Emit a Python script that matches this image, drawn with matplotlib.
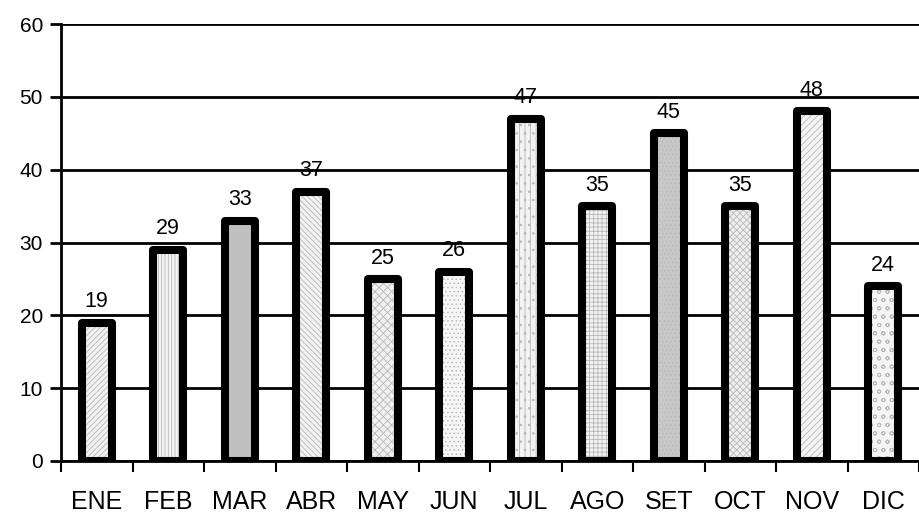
import matplotlib.pyplot as plt
import numpy as np

meses = ['ENE', 'FEB', 'MAR', 'ABR', 'MAY', 'JUN', 'JUL', 'AGO', 'SET', 'OCT', 'NOV', 'DIC']
valores = [19, 29, 33, 37, 25, 26, 47, 35, 45, 35, 48, 24]

# relleno de cada barra (color de fondo, trama)
fondos = ['#f2f2f2', '#f4f4f4', '#c0c0c0', '#f2f2f2', '#f0f0f0', '#f6f6f6',
          '#f2f2f2', '#f2f2f2', '#c8c8c8', '#efefef', '#f4f4f4', '#f4f4f4']
tramas = ['//////', '|||||', '', '\\\\\\\\\\\\', 'xxxx', '....',
          '|||..', '++++', '....', 'xxxxx', '/////', 'oo']

plt.rcParams['font.family'] = ['Liberation Sans', 'DejaVu Sans']
plt.rcParams['hatch.linewidth'] = 0.6

fig = plt.figure(figsize=(9.19, 5.16), dpi=100)
ax = fig.add_axes([61 / 919, 55 / 516, 858 / 919, 437 / 516])

x = np.arange(len(meses))
ancho = 0.42

# primero el relleno con trama gris, luego el borde negro grueso
ax.bar(x, valores, width=ancho, color=fondos, hatch=tramas, edgecolor='#b8b8b8',
       linewidth=0, zorder=3)
ax.bar(x, valores, width=ancho, facecolor='none', edgecolor='black',
       linewidth=5.8, joinstyle='round', zorder=4)

for xi, v in zip(x, valores):
    ax.text(xi, v + 2.1, str(v), ha='center', va='baseline', fontsize=15.5, zorder=5)

ax.set_xlim(-0.5, -0.5 + 858 / 72)
ax.set_ylim(0, 60)
ax.set_yticks(range(0, 61, 10))
ax.yaxis.grid(True, color='black', linewidth=2)
ax.set_axisbelow(True)

# marcas entre categorias, etiquetas centradas en cada barra
ax.set_xticks(np.append(-0.5, x + 0.5), minor=False)
ax.set_xticklabels([])
ax.set_xticks(x, minor=True)
ax.set_xticklabels(meses, minor=True, fontsize=18)
ax.tick_params(axis='x', which='minor', length=0, pad=21)
ax.tick_params(axis='x', which='major', length=8, width=1.5, direction='out')
ax.tick_params(axis='y', length=8, width=2, labelsize=15, pad=5)

for s in ['top', 'right']:
    ax.spines[s].set_visible(False)
ax.spines['left'].set_linewidth(2)
ax.spines['bottom'].set_linewidth(2)

plt.savefig('out.png', dpi=100)
